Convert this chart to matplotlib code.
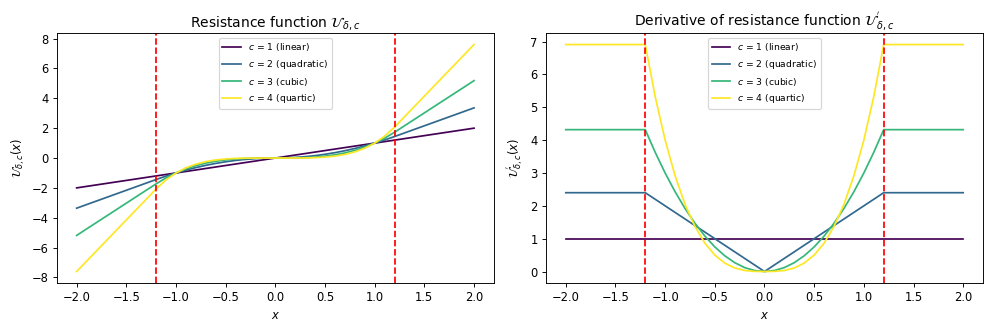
import matplotlib
matplotlib.use("Agg")
import matplotlib.pyplot as plt

x = [-2.0, -1.9, -1.8, -1.7, -1.6, -1.5, -1.4, -1.3, -1.2, -1.1, -1.0, -0.9, -0.8, -0.7, -0.6, -0.5, -0.4, -0.3, -0.2, -0.1,
     0.0, 0.1, 0.2, 0.3, 0.4, 0.5, 0.6, 0.7, 0.8, 0.9, 1.0, 1.1, 1.2, 1.3, 1.4, 1.5, 1.6, 1.7, 1.8, 1.9, 2.0]

u_c1 = [-2.0, -1.9, -1.8, -1.7, -1.6, -1.5, -1.4, -1.3, -1.2, -1.1, -1.0, -0.9, -0.8, -0.7, -0.6, -0.5, -0.4, -0.3, -0.2, -0.1,
        0.0, 0.1, 0.2, 0.3, 0.4, 0.5, 0.6, 0.7, 0.8, 0.9, 1.0, 1.1, 1.2, 1.3, 1.4, 1.5, 1.6, 1.7, 1.8, 1.9, 2.0]
u_c2 = [-3.36, -3.12, -2.88, -2.64, -2.40, -2.16, -1.92, -1.68, -1.44, -1.21, -1.0, -0.81, -0.64, -0.49, -0.36, -0.25, -0.16, -0.09, -0.04, -0.01,
        0.0, 0.01, 0.04, 0.09, 0.16, 0.25, 0.36, 0.49, 0.64, 0.81, 1.0, 1.21, 1.44, 1.68, 1.92, 2.16, 2.40, 2.64, 2.88, 3.12, 3.36]
u_c3 = [-5.184, -4.752, -4.32, -3.888, -3.456, -3.024, -2.592, -2.16, -1.728, -1.331, -1.0, -0.729, -0.512, -0.343, -0.216, -0.125, -0.064, -0.027, -0.008, -0.001,
        0.0, 0.001, 0.008, 0.027, 0.064, 0.125, 0.216, 0.343, 0.512, 0.729, 1.0, 1.331, 1.728, 2.16, 2.592, 3.024, 3.456, 3.888, 4.32, 4.752, 5.184]
u_c4 = [-7.603, -6.912, -6.221, -5.530, -4.838, -4.147, -3.456, -2.765, -2.074, -1.464, -1.0, -0.656, -0.410, -0.240, -0.130, -0.0625, -0.0256, -0.0081, -0.0016, -0.0001,
        0.0, 0.0001, 0.0016, 0.0081, 0.0256, 0.0625, 0.130, 0.240, 0.410, 0.656, 1.0, 1.464, 2.074, 2.765, 3.456, 4.147, 4.838, 5.530, 6.221, 6.912, 7.603]

du_c1 = [1.0] * 41
du_c2 = [2.4, 2.4, 2.4, 2.4, 2.4, 2.4, 2.4, 2.4, 2.4, 2.2, 2.0, 1.8, 1.6, 1.4, 1.2, 1.0, 0.8, 0.6, 0.4, 0.2,
         0.0, 0.2, 0.4, 0.6, 0.8, 1.0, 1.2, 1.4, 1.6, 1.8, 2.0, 2.2, 2.4, 2.4, 2.4, 2.4, 2.4, 2.4, 2.4, 2.4, 2.4]
du_c3 = [4.32, 4.32, 4.32, 4.32, 4.32, 4.32, 4.32, 4.32, 4.32, 3.63, 3.0, 2.43, 1.92, 1.47, 1.08, 0.75, 0.48, 0.27, 0.12, 0.03,
         0.0, 0.03, 0.12, 0.27, 0.48, 0.75, 1.08, 1.47, 1.92, 2.43, 3.0, 3.63, 4.32, 4.32, 4.32, 4.32, 4.32, 4.32, 4.32, 4.32, 4.32]
du_c4 = [6.912, 6.912, 6.912, 6.912, 6.912, 6.912, 6.912, 6.912, 6.912, 5.324, 4.0, 2.916, 2.048, 1.372, 0.864, 0.5, 0.256, 0.108, 0.032, 0.004,
         0.0, 0.004, 0.032, 0.108, 0.256, 0.5, 0.864, 1.372, 2.048, 2.916, 4.0, 5.324, 6.912, 6.912, 6.912, 6.912, 6.912, 6.912, 6.912, 6.912, 6.912]

labels = ["$c$ = 1 (linear)", "$c$ = 2 (quadratic)", "$c$ = 3 (cubic)", "$c$ = 4 (quartic)"]
colors = ["#440154", "#31688e", "#35b779", "#fde725"]
delta = 1.2

fig, axes = plt.subplots(1, 2, figsize=(12, 4), dpi=83)

ax = axes[0]
for ys, lab, col in zip([u_c1, u_c2, u_c3, u_c4], labels, colors):
    ax.plot(x, ys, color=col, label=lab, lw=1.5)
ax.axvline(-delta, color="red", ls="--", lw=1.5)
ax.axvline(delta, color="red", ls="--", lw=1.5)
ax.set_title(r"Resistance function $\mathcal{U}_{\delta,c}$", fontsize=12)
ax.set_xlabel("$x$")
ax.set_ylabel(r"$\mathcal{U}_{\delta,c}(x)$")
ax.legend(loc="upper center", fontsize=8)

ax = axes[1]
for ys, lab, col in zip([du_c1, du_c2, du_c3, du_c4], labels, colors):
    ax.plot(x, ys, color=col, label=lab, lw=1.5)
ax.axvline(-delta, color="red", ls="--", lw=1.5)
ax.axvline(delta, color="red", ls="--", lw=1.5)
ax.set_title(r"Derivative of resistance function $\mathcal{U}^{'}_{\delta,c}$", fontsize=12)
ax.set_xlabel("$x$")
ax.set_ylabel(r"$\mathcal{U}^{'}_{\delta,c}(x)$")
ax.legend(loc="upper center", fontsize=8)

fig.subplots_adjust(left=0.057, right=0.987, top=0.9, bottom=0.148, wspace=0.119)
fig.savefig("out.png", dpi=83)
